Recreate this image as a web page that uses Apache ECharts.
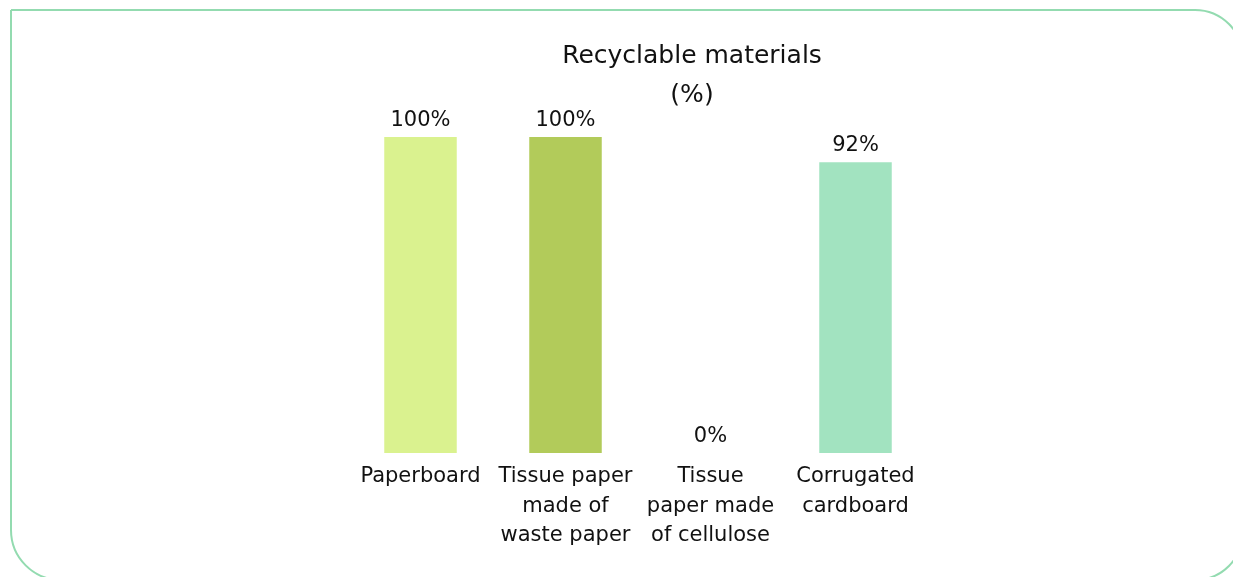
<!DOCTYPE html>
<html>
<head>
<meta charset="utf-8">
<script src="https://cdn.jsdelivr.net/npm/echarts@6/dist/echarts.min.js"></script>
<style>
  html, body { margin: 0; padding: 0; background: #ffffff; }
  #chart { width: 1233px; height: 577px; }
</style>
</head>
<body>
<div id="chart"></div>
<script>
// Share of each material that can be recycled, in percent
const categories = [
  'Paperboard',
  'Tissue paper\nmade of\nwaste paper',
  'Tissue\npaper made\nof cellulose',
  'Corrugated\ncardboard'
];
const recyclableShare = [100, 100, 0, 92];
const barColors = ['#daf28f', '#b2cb5a', '#c9e7a0', '#a2e3c0'];
const titleLines = ['Recyclable materials', '(%)'];

const FONT = '"DejaVu Sans", sans-serif';

const chart = echarts.init(document.getElementById('chart'), null, { renderer: 'canvas' });

chart.setOption({
  backgroundColor: '#ffffff',
  animation: false,
  graphic: [
    {
      type: 'rect',
      shape: { x: 11, y: 10, width: 1232, height: 570, r: [0, 48, 48, 50] },
      style: { fill: 'none', stroke: '#93dbb0', lineWidth: 2 },
      silent: true
    },
    {
      type: 'text',
      x: 692,
      y: 37,
      style: {
        text: titleLines.join('\n'),
        fill: '#111111',
        font: '25px ' + FONT,
        lineHeight: 39,
        align: 'center',
        verticalAlign: 'top'
      },
      silent: true
    }
  ],
  grid: { left: 348, right: 305, top: 137, bottom: 124, containLabel: false },
  xAxis: {
    type: 'category',
    data: categories,
    axisLine: { show: false },
    axisTick: { show: false },
    axisLabel: {
      interval: 0,
      margin: 9,
      color: '#111111',
      fontFamily: FONT,
      fontSize: 21,
      lineHeight: 29.5,
      align: 'center'
    }
  },
  yAxis: {
    type: 'value',
    min: 0,
    max: 100,
    show: false,
    splitLine: { show: false }
  },
  series: [
    {
      type: 'bar',
      barWidth: '50%',
      data: recyclableShare.map((v, i) => ({ value: v, itemStyle: { color: barColors[i] } })),
      label: {
        show: true,
        position: 'top',
        distance: 6,
        formatter: p => p.value + '%',
        color: '#111111',
        fontFamily: FONT,
        fontSize: 21
      }
    }
  ]
});
</script>
</body>
</html>
